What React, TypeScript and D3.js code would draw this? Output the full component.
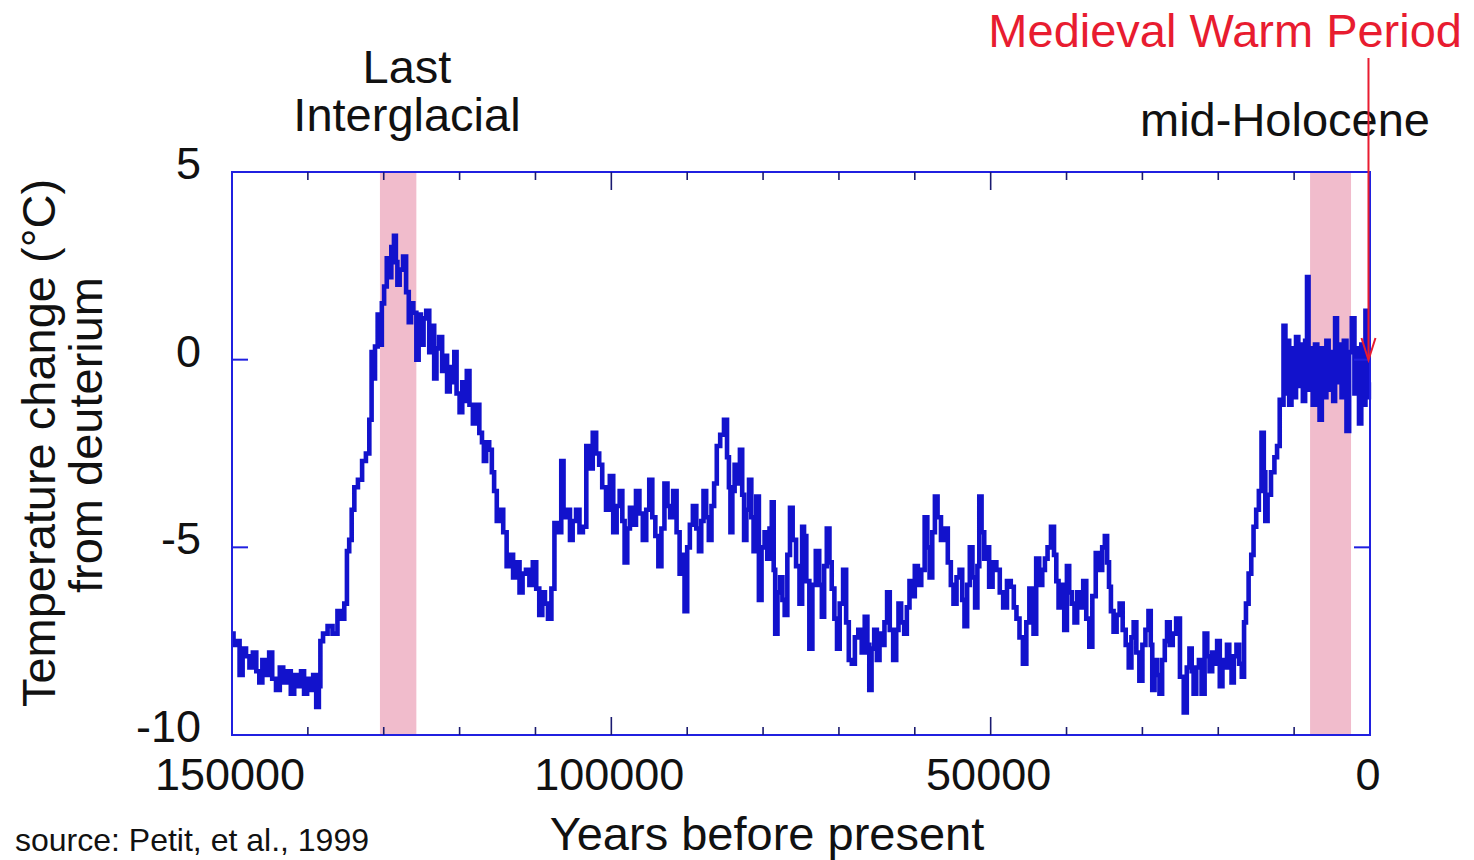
import React from "react";
import * as d3 from "d3";

// [age in thousand years before present, temperature change °C]
const penultimateGlacial: [number, number][] = [
  [150.0, -7.3], [149.6, -7.6], [149.2, -7.5], [148.8, -8.4], [148.4, -7.7], [147.9, -7.9],
  [147.5, -8.2], [147.0, -7.8], [146.6, -8.3], [146.2, -8.6], [145.8, -8.0], [145.3, -8.4],
  [144.9, -7.8], [144.5, -8.5], [143.9, -8.8], [143.5, -8.2], [143.0, -8.6], [142.5, -8.3],
  [142.0, -8.9], [141.6, -8.4], [141.1, -8.7], [140.7, -8.3], [140.3, -8.9], [139.9, -8.5],
  [139.5, -8.8], [139.1, -8.4], [138.7, -9.25], [138.4, -8.7],
];

const lastInterglacial: [number, number][] = [
  [138.3, -7.5], [137.7, -7.3], [137.1, -7.1], [136.4, -7.3], [135.8, -6.7], [135.4, -6.9],
  [135.0, -6.5], [134.7, -5.1], [134.4, -4.8], [134.05, -4.0], [133.7, -3.4], [133.1, -3.2],
  [132.6, -2.7], [132.1, -2.5], [131.7, -1.6], [131.5, 0.2], [131.3, -0.5], [131.0, 0.35],
  [130.6, 1.2], [130.4, 0.4], [130.1, 1.5], [129.8, 1.95], [129.4, 2.7], [129.2, 2.2],
  [128.8, 3.0], [128.5, 3.3], [128.3, 2.6], [128.1, 2.0], [127.7, 2.4], [127.2, 2.75],
  [126.9, 1.8], [126.5, 1.0], [126.3, 1.5], [125.9, 1.25],
];

const glacialInception: [number, number][] = [
  [125.5, 0.0], [125.3, 1.2], [124.9, 0.4], [124.6, 1.1], [124.2, 1.3], [123.8, 0.2],
  [123.5, 0.9], [123.2, -0.5], [122.9, 0.3], [122.5, 0.6], [122.1, -0.3], [121.8, 0.1],
  [121.5, -0.85], [121.1, -0.2], [120.8, -0.6], [120.6, 0.2], [120.2, -0.9], [119.8, -1.4],
  [119.5, -0.6], [119.2, -1.1], [118.9, -0.3], [118.5, -1.2], [118.0, -1.7], [117.6, -1.2],
  [117.2, -1.95], [116.9, -2.2], [116.7, -2.7], [116.3, -2.2], [115.9, -2.4], [115.6, -3.0],
  [115.3, -3.5], [114.9, -4.3], [114.5, -4.0], [114.0, -4.6], [113.6, -5.5], [113.2, -5.2],
  [112.7, -5.8], [112.3, -5.4], [111.9, -6.2], [111.5, -5.7], [111.0, -5.6], [110.6, -6.0],
  [110.1, -5.4], [109.7, -6.1], [109.3, -6.8], [108.9, -6.2], [108.6, -6.5], [108.1, -6.9],
  [107.7, -6.1], [107.3, -4.35], [106.8, -4.6], [106.4, -2.7], [106.2, -4.0], [106.0, -4.2],
  [105.6, -4.0], [105.3, -4.8], [104.9, -4.3], [104.4, -4.0], [104.0, -4.6], [103.5, -4.45],
  [103.1, -2.3], [102.7, -2.9], [102.2, -1.95], [101.8, -2.5], [101.4, -2.8], [101.0, -3.4],
  [100.4, -4.0],
];

const earlyGlacial: [number, number][] = [
  [100.0, -3.1], [99.5, -4.6], [99.1, -3.9], [98.7, -3.5], [98.4, -4.3], [98.1, -5.4],
  [97.7, -4.5], [97.4, -3.95], [97.0, -4.4], [96.5, -3.5], [96.1, -4.1], [95.6, -4.8],
  [95.2, -4.0], [94.8, -3.2], [94.4, -4.2], [94.0, -4.7], [93.6, -5.5], [93.2, -4.5],
  [92.8, -3.3], [92.4, -3.9], [92.1, -4.2], [91.6, -3.5], [91.2, -4.6], [90.8, -5.7],
  [90.5, -5.2], [90.2, -6.7], [89.8, -5.0], [89.5, -4.4], [89.0, -3.9], [88.6, -4.5],
  [88.3, -5.1], [88.0, -4.3], [87.7, -3.5], [87.3, -4.2], [87.0, -4.8], [86.6, -3.9],
  [86.3, -3.3], [85.9, -2.3], [85.4, -2.0], [84.9, -1.6], [84.6, -2.6], [84.4, -3.4],
  [84.2, -4.6], [83.9, -3.5], [83.6, -2.8], [83.2, -3.3], [82.9, -2.4], [82.6, -3.6],
  [82.4, -4.8], [82.0, -4.0], [81.7, -3.2], [81.4, -4.2], [81.1, -5.1], [80.7, -3.65],
  [80.4, -6.4], [80.0, -5.0], [79.6, -4.6], [79.3, -5.3], [79.0, -4.5], [78.7, -3.8],
  [78.5, -5.6], [78.3, -7.3], [77.9, -6.2], [77.6, -5.8], [77.3, -6.4], [77.0, -6.8],
  [76.6, -5.2], [76.3, -3.95], [75.9, -4.8], [75.4, -5.5],
];

const midGlacial: [number, number][] = [
  [75.0, -6.5], [74.7, -4.45], [74.5, -4.7], [74.1, -5.9], [73.7, -7.7], [73.3, -6.0],
  [72.8, -5.1], [72.4, -6.0], [72.1, -6.85], [71.8, -5.5], [71.4, -4.5], [71.1, -5.4],
  [70.8, -6.1], [70.4, -6.9], [70.1, -7.7], [69.7, -6.5], [69.2, -5.6], [68.9, -7.0],
  [68.5, -8.0], [68.1, -8.1], [67.7, -7.4], [67.2, -7.2], [66.8, -7.8], [66.4, -6.85],
  [66.1, -7.6], [65.9, -8.8], [65.5, -7.7], [65.2, -7.2], [64.8, -8.0], [64.5, -7.3],
  [64.2, -7.6], [63.8, -7.0], [63.5, -6.2], [63.1, -7.2], [62.6, -8.0], [62.3, -7.2],
  [62.0, -6.5], [61.6, -7.0], [61.2, -7.3], [60.9, -6.6], [60.5, -5.9], [60.2, -6.3],
  [59.8, -5.5], [59.4, -6.0], [58.9, -5.6], [58.5, -4.2], [58.2, -5.0], [57.9, -5.8],
  [57.5, -4.6], [57.2, -3.65], [56.8, -4.2], [56.3, -4.8], [55.9, -4.5], [55.4, -5.4],
  [55.1, -6.0], [54.7, -6.5], [54.3, -5.8], [53.9, -5.6], [53.6, -6.4], [53.3, -7.1],
  [52.9, -6.0], [52.6, -5.0], [52.2, -5.8], [51.9, -6.6], [51.6, -5.5], [51.4, -3.65],
  [51.0, -4.6], [50.7, -5.3],
];

const lateGlacial: [number, number][] = [
  [50.4, -5.0], [50.0, -6.05], [49.5, -5.4], [49.0, -5.6], [48.6, -6.2], [48.1, -6.6],
  [47.6, -5.9], [47.1, -6.05], [46.8, -6.6], [46.4, -6.9], [46.0, -7.4], [45.5, -8.1],
  [45.1, -7.0], [44.7, -6.1], [44.5, -6.8], [44.2, -7.3], [43.8, -5.3], [43.4, -6.0],
  [43.0, -5.6], [42.7, -5.3], [42.3, -5.0], [41.8, -4.45], [41.5, -5.2], [41.2, -5.9],
  [40.9, -6.6], [40.5, -6.0], [40.1, -7.2], [39.8, -5.5], [39.5, -6.2], [39.1, -6.5],
  [38.8, -7.0], [38.4, -6.2], [38.0, -6.6], [37.6, -5.9], [37.2, -6.9], [36.8, -7.65],
  [36.4, -6.3], [35.9, -5.15], [35.5, -5.6], [35.1, -5.0], [34.8, -4.7], [34.5, -5.4],
  [34.3, -6.05], [34.0, -6.7], [33.6, -7.25], [33.2, -6.8], [32.8, -6.5], [32.4, -7.2],
  [32.0, -7.6], [31.6, -8.2], [31.3, -7.4], [31.0, -7.0], [30.6, -7.8], [30.2, -8.55],
  [29.8, -7.6], [29.4, -7.2], [29.0, -6.7], [28.8, -7.6], [28.6, -8.8], [28.2, -8.0],
  [27.9, -8.4], [27.6, -8.9], [27.2, -8.0], [26.9, -7.5], [26.6, -7.0], [26.2, -7.6],
  [25.8, -7.3], [25.3, -6.9],
];

const deglaciation: [number, number][] = [
  [24.8, -8.45], [24.3, -9.4], [24.0, -8.2], [23.6, -7.7], [23.4, -8.3], [23.1, -8.9],
  [22.7, -8.2], [22.4, -8.0], [22.0, -8.9], [21.6, -7.3], [21.3, -7.9], [21.0, -8.3],
  [20.6, -7.8], [20.3, -8.1], [20.0, -7.5], [19.6, -8.7], [19.3, -8.0], [19.0, -8.2],
  [18.7, -7.6], [18.4, -8.0], [18.1, -8.6], [17.8, -7.9], [17.4, -7.6], [17.1, -8.1],
  [16.7, -8.45], [16.5, -7.0], [16.2, -6.5], [15.8, -5.7], [15.5, -5.2], [15.2, -4.45],
  [14.8, -4.0], [14.5, -3.5], [14.1, -1.95], [13.9, -3.0], [13.7, -4.3], [13.3, -3.6],
  [12.8, -3.0], [12.4, -2.6], [12.1, -2.3], [11.7, -1.07], [11.5, -1.2],
];

const holocene: [number, number][] = [
  [11.3, 0.9], [11.0, -0.9], [10.8, 0.5], [10.5, -1.2], [10.2, 0.3], [9.9, -1.0],
  [9.6, 0.6], [9.3, -0.7], [9.0, 0.4], [8.7, -1.1], [8.4, 0.5], [8.2, 2.2],
  [8.0, -0.8], [7.7, 0.3], [7.4, -1.2], [7.1, 0.4], [6.8, -0.9], [6.5, -1.6],
  [6.2, 0.3], [5.9, -1.0], [5.6, 0.5], [5.3, -0.8], [5.0, 0.2], [4.7, -1.1],
  [4.5, 1.1], [4.2, -0.6], [3.9, 0.4], [3.6, -1.0], [3.3, 0.5], [2.9, -1.9],
  [2.6, 0.2], [2.2, 1.1], [1.9, -0.9], [1.6, 0.3], [1.3, -1.7], [1.0, 0.4],
  [0.7, -1.2], [0.5, 1.3], [0.3, -1.0], [0.0, -0.6],
];

const warmBands: [number, number][] = [
  [130.5, 125.7], // Last Interglacial
  [7.9, 2.5], // mid-Holocene
];

const xTickValues = d3.range(0, 150001, 10000);
const xMajorTicks = [100000, 50000];
const xTickLabels = [150000, 100000, 50000, 0];
const yTickValues = [5, 0, -5, -10];

const medievalYear = 200;

export default function App() {
  const width = 1474;
  const height = 860;
  const left = 232;
  const right = 1370;
  const top = 172;
  const bottom = 735;

  const x = d3.scaleLinear().domain([150000, 0]).range([left, right]);
  const y = d3.scaleLinear().domain([-10, 5]).range([bottom, top]);

  const series = [
    ...penultimateGlacial,
    ...lastInterglacial,
    ...glacialInception,
    ...earlyGlacial,
    ...midGlacial,
    ...lateGlacial,
    ...deglaciation,
    ...holocene,
  ];

  const line = d3
    .line<[number, number]>()
    .x((d) => x(d[0] * 1000))
    .y((d) => y(d[1]))
    .curve(d3.curveStep);

  const font = "'Liberation Sans', Arial, Helvetica, sans-serif";
  const ax = x(medievalYear);

  return (
    <svg
      width={width}
      height={height}
      style={{ position: "absolute", left: 0, top: 0, background: "#fff" }}
      fontFamily={font}
    >
      {warmBands.map((b, i) => (
        <rect
          key={i}
          x={x(b[0] * 1000)}
          y={top}
          width={x(b[1] * 1000) - x(b[0] * 1000)}
          height={bottom - top}
          fill="#f1bccc"
        />
      ))}

      <path d={line(series) || ""} fill="none" stroke="#1212cc" strokeWidth={4.6} strokeLinejoin="miter" />

      <rect x={left} y={top} width={right - left} height={bottom - top} fill="none" stroke="#2020e0" strokeWidth={2} />

      {xTickValues
        .filter((t) => t !== 0 && t !== 150000)
        .map((t) => {
          const len = xMajorTicks.includes(t) ? 18 : 8;
          return (
            <g key={t} stroke="#1a1a70" strokeWidth={1.6}>
              <line x1={x(t)} x2={x(t)} y1={top} y2={top + len} />
              <line x1={x(t)} x2={x(t)} y1={bottom} y2={bottom - len} />
            </g>
          );
        })}

      {yTickValues
        .filter((t) => t !== 5 && t !== -10)
        .map((t) => (
          <g key={t} stroke="#2020e0" strokeWidth={2}>
            <line x1={left} x2={left + 16} y1={y(t)} y2={y(t)} />
            <line x1={right} x2={right - 16} y1={y(t)} y2={y(t)} />
          </g>
        ))}

      {yTickValues.map((t) => (
        <text key={t} x={201} y={y(t) + 7} textAnchor="end" fontSize={45} fill="#111">
          {t}
        </text>
      ))}

      {xTickLabels.map((t) => (
        <text key={t} x={x(t) - 2} y={790} textAnchor="middle" fontSize={45} fill="#111">
          {t}
        </text>
      ))}

      <text x={767} y={850} textAnchor="middle" fontSize={47} fill="#111">
        Years before present
      </text>
      <text x={15} y={851} fontSize={32} fill="#111">
        source: Petit, et al., 1999
      </text>

      <text transform={`translate(55,443) rotate(-90)`} textAnchor="middle" fontSize={47} fill="#111">
        Temperature change (°C)
      </text>
      <text transform={`translate(102,435) rotate(-90)`} textAnchor="middle" fontSize={47} fill="#111">
        from deuterium
      </text>

      <text x={407} y={83} textAnchor="middle" fontSize={47} fill="#111">
        Last
      </text>
      <text x={407} y={131} textAnchor="middle" fontSize={47} fill="#111">
        Interglacial
      </text>
      <text x={1285} y={136} textAnchor="middle" fontSize={47} fill="#111">
        mid-Holocene
      </text>

      <text x={1462} y={47} textAnchor="end" fontSize={47} fill="#e81c30">
        Medieval Warm Period
      </text>
      <line x1={ax} x2={ax} y1={58} y2={358} stroke="#e81c30" strokeWidth={2} />
      <path
        d={`M${ax - 7},${338} L${ax},${360} L${ax + 7},${338}`}
        fill="none"
        stroke="#e81c30"
        strokeWidth={2}
      />
    </svg>
  );
}
